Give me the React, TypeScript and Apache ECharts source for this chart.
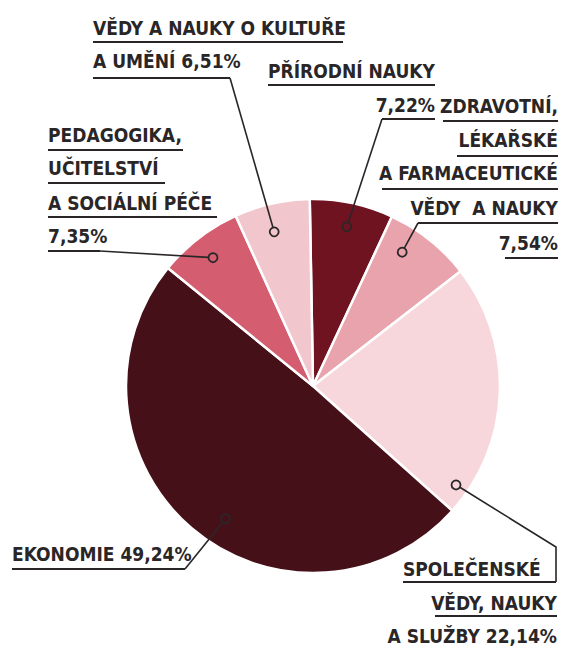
import React, { useEffect, useRef } from "react";
import * as echarts from "echarts";

// Data (clockwise from the top)
const categories = [
  "Přírodní nauky",
  "Zdravotní, lékařské a farmaceutické vědy a nauky",
  "Společenské vědy, nauky a služby",
  "Ekonomie",
  "Pedagogika, učitelství a sociální péče",
  "Vědy a nauky o kultuře a umění",
];
const values = [7.22, 7.54, 22.14, 49.24, 7.35, 6.51];
const colors = ["#6f1320", "#e9a3ad", "#f8d7dc", "#461019", "#d45d70", "#f1c6cd"];

const fmt = (v: number) => v.toFixed(2).replace(".", ",") + "%";

// Layout
const CX = 313;
const CY = 386;
const R = 187;
const START = 91;
const FONT = "'DejaVu Sans Condensed', 'Liberation Sans Narrow', 'DejaVu Sans', sans-serif";
const INK = "#2a2627";

// marker placement inside each slice: fraction of slice sweep from its start, and radius fraction
const markerFrac = [0.5, 0.32, 0.91, 0.46, 0.49, 0.44];
const markerRad = [0.87, 0.86, 0.93, 0.85, 0.87, 0.85];

function markerPos(i: number): [number, number] {
  const total = values.reduce((a, b) => a + b, 0);
  let cum = 0;
  for (let k = 0; k < i; k++) cum += values[k];
  const start = START - (cum / total) * 360;
  const sweep = (values[i] / total) * 360;
  const ang = ((start - markerFrac[i] * sweep) * Math.PI) / 180;
  const r = markerRad[i] * R;
  return [CX + r * Math.cos(ang), CY - r * Math.sin(ang)];
}

type Line = { t: string; x: number; bl: number; align: "left" | "right"; ul?: [number, number, number] };
type Label = { idx: number; lines: Line[]; leader: [number, number][] };

const labels: Label[] = [
  {
    idx: 5,
    lines: [
      { t: "VĚDY A NAUKY O KULTUŘE", x: 93, bl: 35, align: "left", ul: [93, 343, 42] },
      { t: "A UMĚNÍ " + fmt(values[5]), x: 93, bl: 68, align: "left" },
    ],
    leader: [[93, 78], [230, 78]],
  },
  {
    idx: 0,
    lines: [
      { t: "PŘÍRODNÍ NAUKY", x: 435, bl: 78, align: "right", ul: [268, 435, 85] },
      { t: fmt(values[0]), x: 435, bl: 112, align: "right" },
    ],
    leader: [[435, 119], [382, 119]],
  },
  {
    idx: 1,
    lines: [
      { t: "ZDRAVOTNÍ,", x: 558, bl: 113, align: "right", ul: [443, 558, 121] },
      { t: "LÉKAŘSKÉ", x: 558, bl: 147, align: "right", ul: [457, 558, 156] },
      { t: "A FARMACEUTICKÉ", x: 558, bl: 180, align: "right", ul: [382, 558, 189] },
      { t: "VĚDY  A NAUKY", x: 558, bl: 215, align: "right" },
      { t: fmt(values[1]), x: 558, bl: 250, align: "right", ul: [505, 558, 258] },
    ],
    leader: [[558, 223], [418, 223]],
  },
  {
    idx: 4,
    lines: [
      { t: "PEDAGOGIKA,", x: 48, bl: 142, align: "left", ul: [48, 183, 150] },
      { t: "UČITELSTVÍ", x: 48, bl: 175, align: "left", ul: [48, 165, 183] },
      { t: "A SOCIÁLNÍ PÉČE", x: 48, bl: 210, align: "left", ul: [48, 217, 217] },
      { t: fmt(values[4]), x: 48, bl: 243, align: "left" },
    ],
    leader: [[48, 251], [100, 251]],
  },
  {
    idx: 3,
    lines: [{ t: "EKONOMIE " + fmt(values[3]), x: 12, bl: 561, align: "left" }],
    leader: [[12, 569], [185, 569]],
  },
  {
    idx: 2,
    lines: [
      { t: "SPOLEČENSKÉ", x: 403, bl: 576, align: "left" },
      { t: "VĚDY, NAUKY", x: 557, bl: 610, align: "right", ul: [435, 557, 616] },
      { t: "A SLUŽBY " + fmt(values[2]), x: 557, bl: 643, align: "right" },
    ],
    leader: [[403, 582], [556, 582], [556, 547]],
  },
];

export default function App() {
  const ref = useRef<HTMLDivElement>(null);
  useEffect(() => {
    document.body.style.margin = "0";
    const chart = echarts.init(ref.current!, undefined, { renderer: "svg" });
    const graphics: any[] = [];
    labels.forEach((lb) => {
      lb.lines.forEach((ln) => {
        graphics.push({
          type: "text",
          z: 100,
          x: ln.x,
          y: ln.bl - 7,
          style: {
            text: ln.t,
            fill: INK,
            fontSize: 19,
            fontWeight: "bold",
            fontFamily: FONT,
            align: ln.align,
            verticalAlign: "middle",
          },
        });
        if (ln.ul) {
          graphics.push({
            type: "line",
            z: 100,
            shape: { x1: ln.ul[0], y1: ln.ul[2], x2: ln.ul[1], y2: ln.ul[2] },
            style: { stroke: INK, lineWidth: 2 },
          });
        }
      });
      const [mx, my] = markerPos(lb.idx);
      const pts = lb.leader.slice();
      // shorten the last segment so it ends at the circle's edge
      const last = pts[pts.length - 1];
      const dx = mx - last[0];
      const dy = my - last[1];
      const d = Math.sqrt(dx * dx + dy * dy);
      const rr = 4.5;
      pts.push([mx - (dx / d) * rr, my - (dy / d) * rr]);
      graphics.push({
        type: "polyline",
        z: 100,
        shape: { points: pts.slice(0, 2) },
        style: { stroke: INK, lineWidth: 2, fill: null },
      });
      graphics.push({
        type: "polyline",
        z: 100,
        shape: { points: pts.slice(1) },
        style: { stroke: INK, lineWidth: 1.6, fill: null },
      });
      graphics.push({
        type: "circle",
        z: 101,
        shape: { cx: mx, cy: my, r: rr },
        style: { fill: "none", stroke: INK, lineWidth: 1.8 },
      });
    });

    chart.setOption({
      animation: false,
      backgroundColor: "#ffffff",
      series: [
        {
          type: "pie",
          center: [CX, CY],
          radius: R,
          startAngle: START,
          clockwise: true,
          silent: true,
          label: { show: false },
          labelLine: { show: false },
          emphasis: { disabled: true },
          itemStyle: { borderColor: "#ffffff", borderWidth: 2.5 },
          data: categories.map((name, i) => ({
            name,
            value: values[i],
            itemStyle: { color: colors[i] },
          })),
        },
      ],
      graphic: graphics,
    });
    return () => chart.dispose();
  }, []);
  return (
    <div
      ref={ref}
      style={{ position: "fixed", left: 0, top: 0, width: 562, height: 648 }}
    />
  );
}
